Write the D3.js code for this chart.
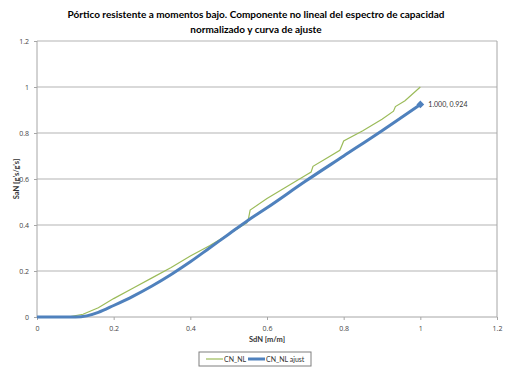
<!DOCTYPE html>
<html>
<head>
<meta charset="utf-8">
<script src="https://cdn.jsdelivr.net/npm/d3@7"></script>
<style>
  body { margin: 0; background: #fff; }
  text { font-family: Lato, "Open Sans", sans-serif; }
  .tick text { font-size: 7px; fill: #444; font-family: "Open Sans", sans-serif; }
</style>
</head>
<body>
<div id="chart"></div>
<script>
// Chart size
let svgWidth = 510;
let svgHeight = 371;

let margin = { top: 41, right: 13, bottom: 54, left: 37 };
let width = svgWidth - margin.left - margin.right;
let height = svgHeight - margin.top - margin.bottom;

// CN_NL (raw spectrum, green)
let nlX = [0, 0.08, 0.12, 0.16, 0.2, 0.25, 0.3, 0.35, 0.4, 0.45, 0.5, 0.548, 0.552, 0.556, 0.6, 0.65, 0.7, 0.715, 0.72, 0.75, 0.79, 0.795, 0.8, 0.85, 0.9, 0.93, 0.935, 0.96, 1.0];
let nlY = [0, 0, 0.012, 0.04, 0.08, 0.125, 0.17, 0.215, 0.265, 0.31, 0.36, 0.41, 0.43, 0.465, 0.515, 0.565, 0.615, 0.63, 0.655, 0.685, 0.725, 0.745, 0.765, 0.81, 0.86, 0.895, 0.915, 0.94, 1.0];

// CN_NL ajust (fitted curve, blue)
let fitX = [0, 0.1, 0.13, 0.16, 0.2, 0.25, 0.3, 0.35, 0.4, 0.45, 0.5, 0.55, 0.6, 0.7, 0.8, 0.9, 1.0];
let fitY = [0, 0, 0.005, 0.02, 0.05, 0.09, 0.135, 0.185, 0.24, 0.3, 0.36, 0.42, 0.475, 0.59, 0.7, 0.81, 0.924];

let xTicks = [0, 0.2, 0.4, 0.6, 0.8, 1, 1.2];
let yTicks = [0, 0.2, 0.4, 0.6, 0.8, 1, 1.2];

let titleLines = ["Pórtico resistente a momentos bajo. Componente no lineal del espectro de capacidad",
                  "normalizado y curva de ajuste"];

let svg = d3.select("#chart")
    .append("svg")
    .attr("width", svgWidth)
    .attr("height", svgHeight);

let chartGroup = svg.append("g")
    .attr("transform", `translate(${margin.left}, ${margin.top})`);

let x = d3.scaleLinear().domain([0, 1.2]).range([0, width]);
let y = d3.scaleLinear().domain([0, 1.2]).range([height, 0]);

// gridlines
chartGroup.selectAll(".grid")
    .data(yTicks.slice(1))
    .enter()
    .append("line")
    .attr("x1", 0)
    .attr("x2", width)
    .attr("y1", d => y(d))
    .attr("y2", d => y(d))
    .attr("stroke", "#b3b3b3")
    .attr("stroke-width", 1);

// plot frame (right edge)
chartGroup.append("line")
    .attr("x1", width).attr("x2", width)
    .attr("y1", 0).attr("y2", height)
    .attr("stroke", "#a6a6a6");

// axes
let bottomAxis = d3.axisBottom(x).tickValues(xTicks).tickFormat(d3.format("")).tickSize(3).tickPadding(6);
let leftAxis = d3.axisLeft(y).tickValues(yTicks).tickFormat(d3.format("")).tickSize(3).tickPadding(5);

let xAxis = chartGroup.append("g")
    .attr("transform", `translate(0,${height})`)
    .call(bottomAxis);
xAxis.selectAll("path, line").attr("stroke", "#a6a6a6");

let yAxis = chartGroup.append("g")
    .call(leftAxis);
yAxis.selectAll("path, line").attr("stroke", "#a6a6a6");
yAxis.select(".domain").attr("d", `M0,${height}V0`);
xAxis.select(".domain").attr("d", `M0,0H${width}`);

// lines
let nlData = nlX.map((d, i) => [d, nlY[i]]);
let fitData = fitX.map((d, i) => [d, fitY[i]]);

let line = d3.line()
    .x(d => x(d[0]))
    .y(d => y(d[1]));

chartGroup.append("path")
    .datum(nlData)
    .attr("fill", "none")
    .attr("stroke", "#9bbb59")
    .attr("stroke-width", 1.2)
    .attr("d", line);

chartGroup.append("path")
    .datum(fitData)
    .attr("fill", "none")
    .attr("stroke", "#4f81bd")
    .attr("stroke-width", 3)
    .attr("d", line.curve(d3.curveMonotoneX));

// end marker and label
let last = fitData[fitData.length - 1];
chartGroup.append("path")
    .attr("d", d3.symbol().type(d3.symbolSquare).size(30))
    .attr("transform", `translate(${x(last[0])},${y(last[1])}) rotate(45)`)
    .attr("fill", "#4f81bd");

chartGroup.append("text")
    .attr("x", x(last[0]) + 8)
    .attr("y", y(last[1]) + 2.5)
    .attr("font-size", "7px")
    .attr("font-family", "'Open Sans', sans-serif")
    .attr("fill", "#333")
    .text(`${last[0].toFixed(3)}, ${last[1].toFixed(3)}`);

// title
svg.selectAll(".title")
    .data(titleLines)
    .enter()
    .append("text")
    .attr("x", 256)
    .attr("y", (d, i) => 18 + i * 15)
    .attr("text-anchor", "middle")
    .attr("font-size", "10px")
    .attr("font-weight", "bold")
    .attr("fill", "#000")
    .text(d => d);

// axis labels
chartGroup.append("text")
    .attr("x", width / 2)
    .attr("y", height + 25)
    .attr("text-anchor", "middle")
    .attr("font-size", "7.5px")
    .attr("font-weight", "bold")
    .attr("fill", "#333")
    .text("SdN [m/m]");

chartGroup.append("text")
    .attr("transform", "rotate(-90)")
    .attr("x", -height / 2)
    .attr("y", -18)
    .attr("text-anchor", "middle")
    .attr("font-size", "7.5px")
    .attr("font-weight", "bold")
    .attr("fill", "#333")
    .text("SaN [g's/g's]");

// legend
let legend = svg.append("g").attr("transform", "translate(199, 352)");
legend.append("rect")
    .attr("width", 112).attr("height", 14)
    .attr("fill", "#fff")
    .attr("stroke", "#7f7f7f");

let legendItems = [
    { label: "CN_NL", color: "#9bbb59", w: 1.2, x: 7 },
    { label: "CN_NL ajust", color: "#4f81bd", w: 3, x: 49 }
];
legendItems.forEach(function(item) {
    legend.append("line")
        .attr("x1", item.x).attr("x2", item.x + 17)
        .attr("y1", 7).attr("y2", 7)
        .attr("stroke", item.color)
        .attr("stroke-width", item.w);
    legend.append("text")
        .attr("x", item.x + 18)
        .attr("y", 9.5)
        .attr("font-size", "7px")
        .attr("font-family", "'Open Sans', sans-serif")
        .attr("fill", "#333")
        .text(item.label);
});
</script>
</body>
</html>
